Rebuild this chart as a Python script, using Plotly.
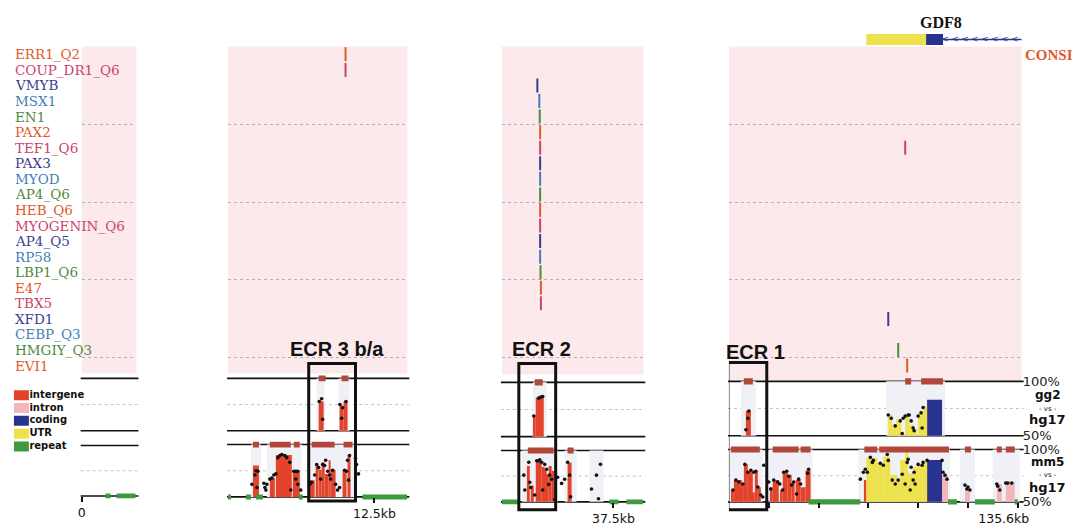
import plotly.graph_objects as go

W, H = 1078, 526
SC = 1.007  # small correction measured between requested and photographed positions

# ---------------------------------------------------------------- data
tf_names = ["ERR1_Q2", "COUP_DR1_Q6", "VMYB", "MSX1", "EN1", "PAX2", "TEF1_Q6",
            "PAX3", "MYOD", "AP4_Q6", "HEB_Q6", "MYOGENIN_Q6", "AP4_Q5", "RP58",
            "LBP1_Q6", "E47", "TBX5", "XFD1", "CEBP_Q3", "HMGIY_Q3", "EVI1"]
tf_colors = ["#e2592b", "#c9436b", "#3b3e8f", "#3f7fb6", "#4f8a3c",
             "#e2592b", "#c9436b", "#3b3e8f", "#3f7fb6", "#4f8a3c",
             "#e2592b", "#c9436b", "#3b3e8f", "#3f7fb6", "#4f8a3c",
             "#e2592b", "#c9436b", "#3b3e8f", "#3f7fb6", "#4f8a3c",
             "#e2592b"]

legend_types = ["intergene", "intron", "coding", "UTR", "repeat"]
type_colors = {"intergene": "#e2432a", "intron": "#f3b7b9", "coding": "#27338f",
               "UTR": "#eee24c", "repeat": "#3d9a3e"}

# genomic windows (kb) of the four browser pieces
panels = ["L", "A", "B", "C"]
x_ranges = {"L": [0, 2.75], "A": [5.15, 14.15], "B": [31.9, 39.0], "C": [121.1, 135.8]}
tick_vals = {"L": [0], "A": [12.5], "B": [37.5],
             "C": [123.1, 125.6, 128.1, 130.6, 133.1, 135.6]}
tick_text = {"L": ["0"], "A": ["12.5kb"], "B": ["37.5kb"],
             "C": ["", "", "", "", "", "135.6kb"]}

# transcription factor sites (name, kb)
tf_sites_A = [("ERR1_Q2", 11.05), ("COUP_DR1_Q6", 11.05)]
tf_sites_B = [("VMYB", 33.68), ("MSX1", 33.78), ("EN1", 33.80), ("PAX2", 33.82),
              ("TEF1_Q6", 33.82), ("PAX3", 33.82), ("MYOD", 33.82), ("AP4_Q6", 33.82),
              ("HEB_Q6", 33.82), ("MYOGENIN_Q6", 33.82), ("AP4_Q5", 33.82),
              ("RP58", 33.82), ("LBP1_Q6", 33.84), ("E47", 33.86), ("TBX5", 33.86)]
tf_sites_C = [("TEF1_Q6", 129.95), ("XFD1", 129.10), ("HMGIY_Q3", 129.60), ("EVI1", 130.05)]

# ---- conservation tracks: aligned (start,end); bars (start,end,%id,type); dots (kb,%id)
L_mm5_repeats = [(1.20, 1.45), (1.75, 2.70)]

A_gg2_aligned = [(9.60, 10.00), (10.70, 11.25)]
A_gg2_ecr = [(9.70, 10.05), (10.85, 11.20)]
A_gg2_bars = [(9.70, 9.95, 78, "intergene"), (10.75, 10.95, 74, "intergene"),
              (10.95, 11.15, 78, "intergene")]
A_gg2_dots = [(9.73, 78), (9.85, 80.5), (9.90, 61), (10.77, 75), (10.90, 72),
              (11.07, 78), (10.85, 62)]

A_mm5_aligned = [(6.30, 6.80), (7.10, 8.85), (9.25, 11.55)]
A_mm5_ecr = [(6.40, 6.70), (7.25, 8.30), (8.45, 8.75), (9.35, 10.50), (10.95, 11.40)]
A_mm5_bars = [(6.40, 6.70, 80, "intergene"), (7.25, 7.50, 68, "intergene"),
              (7.55, 8.35, 90, "intergene"), (8.40, 8.75, 75, "intergene"),
              (9.25, 9.50, 66, "intergene"), (9.55, 9.70, 81, "intergene"),
              (9.75, 9.85, 76, "intergene"), (9.85, 10.00, 83, "intergene"),
              (10.00, 10.20, 72, "intergene"), (10.20, 10.30, 85, "intergene"),
              (10.30, 10.55, 76, "intergene"), (10.90, 11.10, 75, "intergene"),
              (11.15, 11.30, 90, "intergene")]
A_mm5_dots = [(6.35, 62), (6.50, 71), (6.55, 75), (6.65, 74.5), (6.60, 59),
              (6.95, 63), (7.00, 59), (7.05, 56.5), (7.10, 62),
              (7.25, 67), (7.35, 68), (7.45, 71), (7.55, 72),
              (7.65, 87.5), (7.75, 89.5), (7.85, 90.5), (8.00, 89.5), (8.10, 87.5),
              (8.25, 83), (8.30, 56.5), (8.45, 74.5), (8.55, 74.5), (8.65, 74.5),
              (8.55, 67), (8.65, 62), (8.80, 56.5),
              (9.25, 62), (9.35, 64), (9.50, 71), (9.60, 81), (9.70, 78), (9.80, 67),
              (9.90, 81), (10.00, 80), (10.05, 85), (10.15, 74.5), (10.25, 71),
              (10.30, 67), (10.40, 75.5), (10.55, 62), (10.65, 56.5), (10.75, 59),
              (11.00, 75.5), (11.10, 74.5), (11.15, 85), (11.25, 89.5), (11.20, 66),
              (11.55, 87), (11.60, 81), (11.70, 72)]
A_mm5_repeats = [(5.15, 5.30), (6.05, 6.30), (6.55, 6.90), (8.70, 8.90), (11.90, 14.15)]

B_gg2_aligned = [(33.45, 34.15)]
B_gg2_ecr = [(33.55, 33.95)]
B_gg2_bars = [(33.50, 33.60, 70, "intergene"), (33.60, 34.00, 86, "intergene")]
B_gg2_dots = [(33.50, 69), (33.75, 85.5), (33.85, 86.4), (33.95, 87)]

B_mm5_aligned = [(32.90, 34.70), (35.05, 35.65), (36.30, 37.00)]
B_mm5_ecr = [(33.20, 34.50), (35.20, 35.50)]
B_mm5_bars = [(33.20, 33.30, 85, "intergene"), (33.35, 33.50, 66, "intergene"),
              (33.60, 33.90, 89, "intergene"), (33.90, 34.05, 84, "intergene"),
              (34.05, 34.15, 81, "intergene"), (34.15, 34.25, 77, "intergene"),
              (34.25, 34.40, 85, "intergene"), (34.40, 34.55, 80, "intergene"),
              (35.20, 35.40, 88, "intergene")]
B_mm5_dots = [(33.00, 76), (33.05, 61.5), (33.25, 88.5), (33.30, 69), (33.35, 64),
              (33.55, 56.7), (33.65, 90), (33.75, 90), (33.80, 91), (33.90, 88.5),
              (33.95, 61.5), (34.05, 86.5), (34.15, 81.7), (34.25, 67), (34.30, 76),
              (34.40, 72), (34.55, 52), (34.70, 74), (34.90, 68), (35.05, 72),
              (35.20, 88.5), (35.30, 76), (35.35, 55), (36.40, 62.5), (36.65, 76),
              (36.85, 86.5), (36.75, 53)]
B_mm5_repeats = [(31.90, 32.75), (37.30, 37.75), (38.15, 39.00)]

C_gg2_aligned = [(121.70, 122.45), (129.00, 131.95)]
C_gg2_ecr = [(121.85, 122.30), (129.95, 130.25), (130.75, 131.85)]
C_gg2_bars = [(121.95, 122.20, 73, "intergene"),
              (129.10, 129.30, 69, "UTR"), (129.30, 129.50, 60, "UTR"),
              (129.50, 129.75, 65, "UTR"), (129.75, 129.85, 53, "UTR"),
              (129.95, 130.15, 69, "UTR"), (130.15, 130.40, 60, "UTR"),
              (130.40, 130.55, 56, "UTR"), (130.60, 130.85, 71, "UTR"),
              (130.85, 131.05, 77, "UTR"), (131.05, 131.80, 83, "coding")]
C_gg2_dots = [(122.05, 66), (121.95, 55.5), (122.10, 72.7), (129.10, 69), (129.25, 66),
              (129.45, 59), (129.70, 63.6), (129.80, 52), (129.85, 66), (129.95, 68),
              (130.10, 69), (130.15, 69), (130.25, 63.6), (130.35, 57), (130.40, 54.5),
              (130.60, 68), (130.75, 71), (130.80, 57), (130.85, 76)]

C_mm5_aligned = [(121.10, 122.80), (123.10, 125.30), (127.60, 132.20),
                 (132.70, 133.45), (134.35, 135.70)]
C_mm5_ecr = [(121.20, 122.65), (123.30, 124.60), (124.70, 125.20), (127.90, 128.55),
             (128.65, 132.15), (132.95, 133.25), (134.55, 134.80), (135.00, 135.45)]
C_mm5_bars = [(121.20, 121.35, 61, "intergene"), (121.35, 121.75, 71, "intergene"),
              (121.75, 121.85, 67, "intergene"), (121.85, 122.05, 86, "intergene"),
              (122.05, 122.30, 79, "intergene"), (122.30, 122.40, 59, "intergene"),
              (122.40, 122.55, 79, "intergene"), (122.55, 122.70, 64, "intergene"),
              (123.20, 123.30, 64, "intergene"), (123.30, 123.60, 71, "intergene"),
              (123.70, 123.80, 61, "intergene"), (123.80, 124.05, 78, "intergene"),
              (124.05, 124.25, 76, "intergene"), (124.25, 124.40, 68, "intergene"),
              (124.45, 124.70, 71, "intergene"), (124.70, 124.95, 64, "intergene"),
              (124.95, 125.20, 80, "intergene"), (127.90, 128.00, 71, "intergene"),
              (128.00, 128.55, 92, "UTR"), (128.55, 128.85, 87, "UTR"),
              (128.85, 129.20, 93, "UTR"), (129.20, 129.55, 76, "UTR"),
              (129.55, 129.70, 71, "UTR"), (129.70, 129.95, 90, "UTR"),
              (129.95, 130.10, 98, "UTR"), (130.10, 130.35, 77, "UTR"),
              (130.35, 130.60, 83, "UTR"), (130.60, 130.80, 86, "UTR"),
              (130.80, 131.05, 88, "UTR"), (131.05, 131.80, 90, "coding"),
              (131.80, 132.10, 76, "intron"), (132.95, 133.20, 64, "intron"),
              (134.55, 134.80, 67, "intron"), (135.00, 135.45, 69, "intron")]
C_mm5_dots = [(121.30, 61.3), (121.45, 70.8), (121.60, 68.9), (121.80, 67), (121.90, 85.8),
              (122.05, 78.3), (122.20, 80.2), (122.35, 78.3), (122.45, 79.2), (122.55, 64.2),
              (122.70, 56.6), (122.80, 54.7), (122.85, 84.9), (123.10, 68.9), (123.20, 62.3),
              (123.35, 70.8), (123.55, 68.9), (123.65, 67), (123.80, 61.3), (123.85, 78.3),
              (124.00, 79.2), (124.10, 74.5), (124.25, 66), (124.35, 68.9), (124.50, 57.5),
              (124.60, 71.7), (124.70, 67), (125.05, 77.4), (125.10, 81.1),
              (127.70, 71.7), (127.85, 78.3), (127.95, 81.1), (128.05, 78.3), (128.20, 92.5),
              (128.30, 87.7), (128.35, 89.6), (128.70, 86.8), (128.85, 84.9), (129.05, 95.3),
              (129.10, 89.6), (129.30, 70.8), (129.45, 67), (129.60, 70.8), (129.80, 76.4),
              (130.05, 87.7), (130.10, 90.6), (130.25, 83), (130.35, 70.8), (130.45, 67),
              (130.60, 85.8), (129.95, 67), (130.20, 61.3), (130.40, 78.3), (130.80, 84.9),
              (130.85, 87.7), (131.05, 89.6), (131.80, 89.6),
              (131.85, 78.3), (131.95, 75.5), (132.05, 71.7), (132.95, 66), (133.05, 62.3),
              (133.10, 64.2), (133.20, 61.3), (134.55, 67), (134.60, 65), (134.70, 61.3),
              (135.00, 67.9), (135.10, 67.9), (135.30, 67.9)]
C_mm5_repeats = [(125.10, 127.70), (132.10, 132.55), (133.45, 134.45), (135.45, 135.60)]

# ECR boxes: (label, start kb, end kb, label centre kb)
ecr_boxes = {"A": ("ECR 3 b/a", 9.20, 11.55, 10.60),
             "B": ("ECR 2", 32.75, 34.60, 33.90),
             "C": ("ECR 1", 121.05, 123.00, 122.45)}

# GDF8 gene model (kb)
gene_utr = (128.0, 131.0)
gene_cds = (131.0, 131.85)
gene_intron = (131.85, 135.8)
gene_chevrons = [131.95, 132.45, 132.95, 133.45, 133.95, 134.45, 134.95, 135.45]

tracks = {
    ("L", "gg2"): dict(aligned=[], ecr=[], bars=[], dots=[], repeats=[]),
    ("L", "mm5"): dict(aligned=[], ecr=[], bars=[], dots=[], repeats=L_mm5_repeats),
    ("A", "gg2"): dict(aligned=A_gg2_aligned, ecr=A_gg2_ecr, bars=A_gg2_bars, dots=A_gg2_dots, repeats=[]),
    ("A", "mm5"): dict(aligned=A_mm5_aligned, ecr=A_mm5_ecr, bars=A_mm5_bars, dots=A_mm5_dots, repeats=A_mm5_repeats),
    ("B", "gg2"): dict(aligned=B_gg2_aligned, ecr=B_gg2_ecr, bars=B_gg2_bars, dots=B_gg2_dots, repeats=[]),
    ("B", "mm5"): dict(aligned=B_mm5_aligned, ecr=B_mm5_ecr, bars=B_mm5_bars, dots=B_mm5_dots, repeats=B_mm5_repeats),
    ("C", "gg2"): dict(aligned=C_gg2_aligned, ecr=C_gg2_ecr, bars=C_gg2_bars, dots=C_gg2_dots, repeats=[]),
    ("C", "mm5"): dict(aligned=C_mm5_aligned, ecr=C_mm5_ecr, bars=C_mm5_bars, dots=C_mm5_dots, repeats=C_mm5_repeats),
}
tf_sites = {"L": [], "A": tf_sites_A, "B": tf_sites_B, "C": tf_sites_C}

# ---------------------------------------------------------------- layout geometry (pixels)
px_x = {"L": (78, 133), "A": (225, 405), "B": (500, 642), "C": (728, 1022)}
px_tracks = {"L": ((380, 433), (448, 499)), "A": ((380, 433), (447, 500)),
             "B": ((384, 439), (453, 505)), "C": ((383, 438), (452, 505))}
pink_bottom = {"L": 375, "A": 375, "B": 376, "C": 382}
TF_TOP, TF_BOT = 44.1, 374.9
PAD = 4.0
ALIGN_COL = "#f0f0f7"
ECR_COL = "#b2463b"
TF_BG = "#fbe9ec"


def pyp(py):
    return 1 - py * SC / H


def pxp(px):
    return px * SC / W


def axkey(kind, n):
    return kind + "axis" + ("" if n == 1 else str(n))


def axref(kind, n):
    return kind + ("" if n == 1 else str(n))


fig = go.Figure()
layout = dict(width=W, height=H, margin=dict(l=0, r=0, t=0, b=0),
              paper_bgcolor="white", plot_bgcolor="rgba(0,0,0,0)",
              barmode="overlay", showlegend=False, shapes=[], annotations=[])


def add_bars(segs, color, base, height, xr, yr, vals=None):
    if not segs:
        return
    xs = [(s[0] + s[1]) / 2 for s in segs]
    ws = [s[1] - s[0] for s in segs]
    if vals is None:
        ys = [height] * len(segs)
        bs = [base] * len(segs)
    else:
        ys = [v - 50 for v in vals]
        bs = [50] * len(segs)
    fig.add_trace(go.Bar(x=xs, y=ys, base=bs, width=ws, marker=dict(color=color, line=dict(width=0)),
                         xaxis=xr, yaxis=yr, hoverinfo="skip", cliponaxis=False))


for i, p in enumerate(panels):
    x0, x1 = px_x[p]
    for r in range(3):
        n = i * 3 + r + 1
        xa = dict(domain=[pxp(x0), pxp(x1)], range=x_ranges[p], anchor=axref("y", n),
                  visible=False, fixedrange=True)
        if r == 0:
            ya = dict(domain=[pyp(TF_BOT), pyp(TF_TOP)], range=[20.5, -0.5], anchor=axref("x", n),
                      showticklabels=False, ticks="", showline=False, zeroline=False,
                      showgrid=True, tickvals=[4.5, 9.5, 14.5, 19.5], gridcolor="#b5aeb9",
                      griddash="dot", gridwidth=1)
        else:
            t, b = px_tracks[p][r - 1]
            s = (b - t) / 50
            ya = dict(domain=[pyp(b + PAD * s), pyp(t - PAD * s)], range=[50 - PAD, 100 + PAD],
                      anchor=axref("x", n), visible=False)
            if p == "C":
                ya.update(visible=True, side="right", tickvals=[50, 100], ticktext=["50%", "100%"],
                          showgrid=False, zeroline=False, showline=False, ticks="",
                          tickfont=dict(family="DejaVu Sans", size=13, color="#222"))
            if r == 2:
                xa.update(visible=True, anchor="free", position=pyp(b), showgrid=False,
                          zeroline=False, showline=False, ticks="outside", ticklen=5,
                          tickwidth=1.5, tickcolor="#111", tickvals=tick_vals[p],
                          ticktext=tick_text[p], ticklabelstandoff=0,
                          tickfont=dict(family="DejaVu Sans", size=12.5, color="#111"))
                if p == "C":
                    xa.update(ticklabelshift=-14)
        layout[axkey("x", n)] = xa
        layout[axkey("y", n)] = ya

        xr, yr = axref("x", n), axref("y", n)
        if r == 0:
            layout["shapes"].append(dict(type="rect", xref="paper", yref="paper",
                                         x0=pxp(x0), x1=pxp(x1), y0=pyp(pink_bottom[p]), y1=pyp(TF_TOP),
                                         fillcolor=TF_BG, line=dict(width=0), layer="below"))
            for name, kb in tf_sites[p]:
                row = tf_names.index(name)
                fig.add_trace(go.Scatter(x=[kb, kb], y=[row - 0.45, row + 0.45], mode="lines",
                                         line=dict(color=tf_colors[row], width=2),
                                         xaxis=xr, yaxis=yr, hoverinfo="skip"))
        else:
            key = (p, "gg2" if r == 1 else "mm5")
            d = tracks[key]
            for yv, col, dash, wd in [(100, "#111", "solid", 1.6), (75, "#c4c4cc", "dot", 1),
                                      (50, "#111", "solid", 1.6)]:
                layout["shapes"].append(dict(type="line", xref="paper", yref=yr,
                                             x0=pxp(x0 - 1), x1=pxp(x1 + 2), y0=yv, y1=yv,
                                             line=dict(color=col, width=wd, dash=dash),
                                             layer="below"))
            add_bars(d["aligned"], ALIGN_COL, 50, 50, xr, yr)
            for tname in legend_types:
                segs = [b_ for b_ in d["bars"] if b_[3] == tname]
                add_bars(segs, type_colors[tname], None, None, xr, yr, vals=[b_[2] for b_ in segs])
            add_bars(d["repeats"], type_colors["repeat"], 47.6, 4.8, xr, yr)
            add_bars(d["ecr"], ECR_COL, 97.2, 5.6, xr, yr)
            if d["dots"]:
                fig.add_trace(go.Scatter(x=[q[0] for q in d["dots"]], y=[q[1] for q in d["dots"]],
                                         mode="markers", marker=dict(color="#111", size=3.6),
                                         xaxis=xr, yaxis=yr, hoverinfo="skip", cliponaxis=False))

    if p in ecr_boxes:
        label, e0, e1, lx = ecr_boxes[p]
        xr = axref("x", i * 3 + 2)
        ytop = {"A": 365, "B": 365, "C": 364}[p]
        ybot = {"A": 504, "B": 513, "C": 513}[p]
        layout["shapes"].append(dict(type="rect", xref=xr, yref="paper", x0=e0, x1=e1,
                                     y0=pyp(ybot), y1=pyp(ytop),
                                     line=dict(color="#111", width=3), layer="above"))
        layout["annotations"].append(dict(text="<b>%s</b>" % label, xref=xr, yref="paper", x=lx,
                                          y=pyp(350 if p != "C" else 353), showarrow=False,
                                          font=dict(family="Liberation Sans", size=20, color="#111"),
                                          xanchor="center", yanchor="middle"))

# TF labels
for row, name in enumerate(tf_names):
    layout["annotations"].append(dict(text=name, xref="paper", yref="y", x=pxp(9), y=row,
                                      xanchor="left", yanchor="middle", showarrow=False,
                                      font=dict(family="DejaVu Serif", size=13.5, color=tf_colors[row])))

# gene model on panel C coordinates
g = 13
layout[axkey("x", g)] = dict(domain=[pxp(px_x["C"][0]), pxp(px_x["C"][1])], range=x_ranges["C"],
                             anchor=axref("y", g), visible=False)
layout[axkey("y", g)] = dict(domain=[pyp(47), pyp(27)], range=[0, 1], anchor=axref("x", g),
                             visible=False)
gx, gy = axref("x", g), axref("y", g)
fig.add_trace(go.Scatter(x=[gene_intron[0], gene_intron[1]], y=[0.5, 0.5], mode="lines",
                         line=dict(color="#2b3590", width=1.5), xaxis=gx, yaxis=gy, hoverinfo="skip"))
fig.add_trace(go.Scatter(x=gene_chevrons, y=[0.5] * len(gene_chevrons), mode="text",
                         text=["<"] * len(gene_chevrons),
                         textfont=dict(family="DejaVu Sans", size=9, color="#2b3590"),
                         xaxis=gx, yaxis=gy, hoverinfo="skip"))
for seg, col in [(gene_utr, type_colors["UTR"]), (gene_cds, type_colors["coding"])]:
    fig.add_trace(go.Bar(y=[0.5], x=[seg[1] - seg[0]], base=[seg[0]], orientation="h", width=0.55,
                         marker=dict(color=col, line=dict(width=0)), xaxis=gx, yaxis=gy,
                         hoverinfo="skip"))
layout["annotations"].append(dict(text="<b>GDF8</b>", xref=gx, yref="paper", x=131.75, y=pyp(20),
                                  showarrow=False, xanchor="center", yanchor="middle",
                                  font=dict(family="Liberation Serif", size=16, color="#111")))
layout["annotations"].append(dict(text="<b>CONSI</b>", xref="paper", yref="paper", x=pxp(1023),
                                  y=pyp(53), showarrow=False, xanchor="left", yanchor="middle",
                                  font=dict(family="Liberation Serif", size=15, color="#e05a2a")))

# species labels at the right of panel C
for txt, py, size, bold in [("gg2", 397, 12, True), ("- vs -", 411, 7, False), ("hg17", 422, 13, True),
                            ("mm5", 465, 12, True), ("- vs -", 478, 7, False), ("hg17", 490, 13, True)]:
    layout["annotations"].append(dict(text=("<b>%s</b>" % txt) if bold else txt, xref="paper",
                                      yref="paper", x=pxp(1048), y=pyp(py), showarrow=False,
                                      xanchor="center", yanchor="middle",
                                      font=dict(family="DejaVu Sans", size=size, color="#111")))

# colour key
k = 14
layout[axkey("x", k)] = dict(domain=[pxp(8), pxp(100)], range=[0, 92], anchor=axref("y", k), visible=False)
layout[axkey("y", k)] = dict(domain=[pyp(455.5), pyp(390.5)], range=[4.5, -0.5], anchor=axref("x", k),
                             visible=False)
kx, ky = axref("x", k), axref("y", k)
fig.add_trace(go.Bar(y=list(range(len(legend_types))), x=[15] * len(legend_types),
                     base=[2] * len(legend_types), orientation="h", width=0.78,
                     marker=dict(color=[type_colors[t] for t in legend_types], line=dict(width=0)),
                     xaxis=kx, yaxis=ky, hoverinfo="skip"))
fig.add_trace(go.Scatter(x=[17.5] * len(legend_types), y=list(range(len(legend_types))), mode="text",
                         text=["<b>%s</b>" % t for t in legend_types], textposition="middle right",
                         textfont=dict(family="DejaVu Sans", size=10, color="#111"),
                         xaxis=kx, yaxis=ky, hoverinfo="skip"))

fig.update_layout(**layout)
# remove the default 8px page margin so the 1078x526 figure fills the window exactly
fig.write_html("out.html", config={"displayModeBar": False},
               post_script="document.body.style.margin='0';document.body.style.overflow='hidden';")
